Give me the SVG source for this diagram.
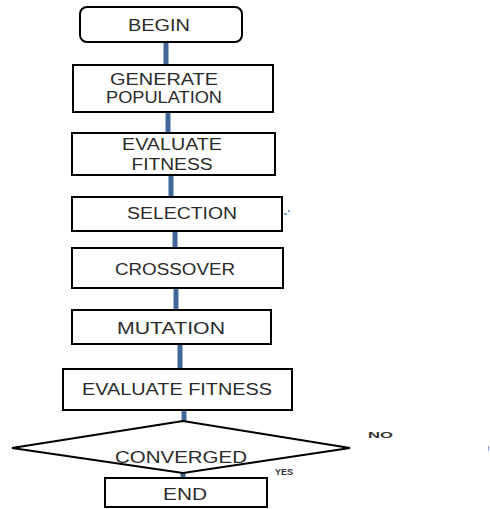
<svg xmlns="http://www.w3.org/2000/svg" width="490" height="509" viewBox="0 0 490 509">
<style>
.box{fill:#fff;stroke:#000;stroke-width:2}
.t{font-family:"Liberation Sans",Arial,sans-serif;font-size:16px;fill:#2b2b2b;text-anchor:middle}
.s{font-family:"Liberation Sans",Arial,sans-serif;font-size:9px;font-weight:bold;fill:#333}
.c{stroke:#3f6899;stroke-width:5;fill:none}
</style>
<rect width="490" height="509" fill="#fff"/>
<g id="connectors">
<line class="c" x1="166" y1="42" x2="166" y2="65"/>
<line class="c" x1="168" y1="112" x2="168" y2="133"/>
<line class="c" x1="171" y1="175" x2="171" y2="197"/>
<line class="c" x1="175" y1="231" x2="175" y2="248"/>
<line class="c" x1="176" y1="288" x2="176" y2="310"/>
<line class="c" x1="180" y1="344" x2="180" y2="369"/>
<line class="c" x1="184" y1="410" x2="184" y2="422"/>
<line class="c" x1="183" y1="471" x2="183" y2="479"/>
</g>
<g id="begin">
<rect class="box" x="80" y="7" width="162" height="35" rx="7"/>
<text class="t" x="159" y="31" textLength="62" lengthAdjust="spacingAndGlyphs">BEGIN</text>
</g>
<g id="generate">
<rect class="box" x="73" y="65" width="200" height="47"/>
<text class="t" x="164" y="85" textLength="108" lengthAdjust="spacingAndGlyphs">GENERATE</text>
<text class="t" x="164" y="103" textLength="116" lengthAdjust="spacingAndGlyphs">POPULATION</text>
</g>
<g id="evaluate1">
<rect class="box" x="72" y="133" width="203" height="42"/>
<text class="t" x="172" y="150" textLength="100" lengthAdjust="spacingAndGlyphs">EVALUATE</text>
<text class="t" x="172" y="170" textLength="81" lengthAdjust="spacingAndGlyphs">FITNESS</text>
</g>
<g id="selection">
<rect class="box" x="72" y="197" width="210" height="34"/>
<text class="t" x="182" y="219" textLength="110" lengthAdjust="spacingAndGlyphs">SELECTION</text>
</g>
<g id="crossover">
<rect class="box" x="72" y="248" width="211" height="40"/>
<text class="t" x="175" y="275" textLength="120" lengthAdjust="spacingAndGlyphs">CROSSOVER</text>
</g>
<g id="mutation">
<rect class="box" x="72" y="310" width="199" height="34"/>
<text class="t" x="171" y="334" textLength="108" lengthAdjust="spacingAndGlyphs">MUTATION</text>
</g>
<g id="evaluate2">
<rect class="box" x="63" y="369" width="229" height="41"/>
<text class="t" x="177" y="395" textLength="190" lengthAdjust="spacingAndGlyphs">EVALUATE FITNESS</text>
</g>
<g id="converged">
<polygon class="box" points="12,448 183,421 350,448 183,473"/>
<text class="t" x="181" y="463" textLength="132" lengthAdjust="spacingAndGlyphs">CONVERGED</text>
</g>
<g id="end">
<rect class="box" x="105" y="478" width="162" height="29"/>
<text class="t" x="185" y="500" textLength="44" lengthAdjust="spacingAndGlyphs">END</text>
</g>
<g id="labels">
<text class="s" x="368" y="438" textLength="25" lengthAdjust="spacingAndGlyphs">NO</text>
<text class="s" x="275" y="475" textLength="18" lengthAdjust="spacingAndGlyphs">YES</text>
</g>
<g id="marks" fill="#7fa3d0">
<rect x="284" y="213" width="3" height="2"/>
<rect x="288" y="210" width="2" height="2"/>
<rect x="488" y="446" width="1" height="5"/>
</g>
</svg>
